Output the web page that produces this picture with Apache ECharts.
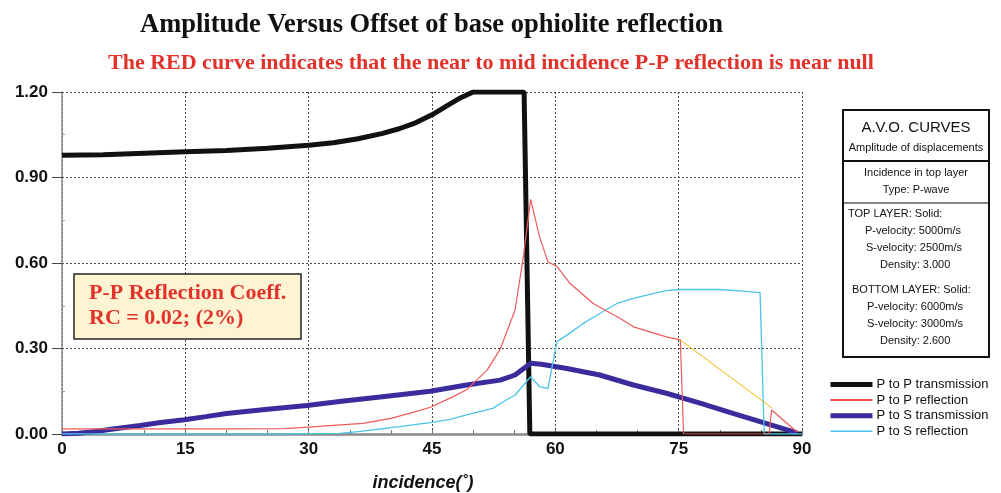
<!DOCTYPE html>
<html>
<head>
<meta charset="utf-8">
<script src="https://cdn.jsdelivr.net/npm/echarts@6/dist/echarts.min.js"></script>
<style>
html,body{margin:0;padding:0;background:#fff;}
#chart{width:1001px;height:493px;}
</style>
</head>
<body>
<div id="chart"></div>
<script>
// ---- data (incidence angle in degrees, amplitude) ----
var xTicks = [0, 15, 30, 45, 60, 75, 90];
var yTicks = [0.00, 0.30, 0.60, 0.90, 1.20];
var seriesNames = ['P to P transmission', 'P to P reflection', 'P to S transmission', 'P to S reflection'];

var ppTransmission = [[0,0.978],[5,0.98],[10,0.985],[15,0.99],[20,0.995],[25,1.003],[30,1.013],[33,1.022],[36,1.036],[39,1.055],[41,1.071],[43,1.092],[45,1.12],[47,1.155],[48.5,1.18],[50,1.2],[56.2,1.2],[56.9,0],[90,0]];
var ppReflection = [[0,0.018],[10,0.018],[20,0.018],[27,0.019],[30,0.024],[33,0.03],[36.6,0.037],[40,0.055],[42.7,0.076],[44.8,0.094],[47.2,0.126],[49.2,0.155],[51.7,0.224],[53.3,0.298],[55.1,0.435],[56.1,0.62],[57.0,0.823],[58.1,0.69],[59.1,0.604],[60.2,0.588],[61.8,0.528],[64.6,0.458],[67.9,0.405],[69.5,0.376],[73.5,0.341],[75.2,0.33],[75.6,0],[86.0,0],[86.3,0.084],[89.4,0.007]];
var psTransmission = [[0,0],[2,0.003],[3.8,0.008],[6,0.017],[9.5,0.03],[12,0.04],[14.9,0.05],[17.5,0.061],[20,0.072],[25,0.087],[29.8,0.1],[34,0.115],[38.7,0.13],[41.1,0.138],[44.8,0.15],[49.2,0.172],[53.3,0.189],[55.1,0.207],[57.0,0.248],[58.3,0.245],[61.4,0.23],[65.4,0.207],[69.5,0.172],[73.5,0.143],[77.6,0.108],[81.6,0.072],[85.6,0.037],[89.4,0.004]];
var psReflection = [[0,0],[27,0],[33.8,0.002],[36,0.008],[40,0.022],[41.1,0.026],[44.8,0.04],[47.2,0.051],[49.2,0.067],[52.4,0.09],[53.3,0.107],[55.1,0.137],[57.0,0.201],[58.1,0.166],[59.1,0.16],[60.2,0.324],[61.4,0.347],[63.4,0.388],[65.4,0.423],[67.5,0.458],[69.5,0.476],[71.5,0.49],[73.5,0.503],[75,0.507],[77.6,0.507],[80,0.507],[82.4,0.502],[84.9,0.496],[85.4,0],[90,0]];
var ppConnector = [[75.2,0.33],[86.4,0.09]];

var infoLines = [
  'A.V.O. CURVES', 'Amplitude of displacements', 'Incidence in top layer', 'Type: P-wave',
  'TOP LAYER: Solid:', 'P-velocity: 5000m/s', 'S-velocity: 2500m/s', 'Density: 3.000',
  'BOTTOM LAYER: Solid:', 'P-velocity: 6000m/s', 'S-velocity: 3000m/s', 'Density: 2.600'
];

var chart = echarts.init(document.getElementById('chart'));
var sans = 'Liberation Sans, Arial, Helvetica, sans-serif';
var serif = 'Liberation Serif, Times New Roman, serif';
var red = '#e2322a';

function infoText(str, x, y, size, align) {
  return {type:'text', x:x, y:y, z:100, style:{text:str, fill:'#111', font: size + 'px ' + sans, textAlign: align, textVerticalAlign:'middle'}};
}
var hiddenSymbol = {opacity:0, color:'rgba(0,0,0,0)', borderWidth:0};

var option = {
  animation: false,
  backgroundColor: '#fff',
  title: [
    {text:'Amplitude Versus Offset of base ophiolite reflection', left:140, top:12, padding:0,
     textStyle:{fontFamily:serif, fontWeight:'bold', fontSize:26.5, color:'#111'}},
    {text:'The RED curve indicates that the near to mid incidence P-P reflection is near null', left:108, top:52, padding:0,
     textStyle:{fontFamily:serif, fontWeight:'bold', fontSize:22, color:red}}
  ],
  grid: {left:62, right:199, top:92, bottom:59, containLabel:false, outerBoundsMode:'none'},
  legend: {
    orient:'vertical', left:828, top:378, padding:0, itemWidth:42, itemHeight:14, itemGap:2.6,
    textStyle:{fontFamily:sans, fontSize:13, color:'#111', padding:[0,0,0,-1]},
    data: [
      {name:seriesNames[0], itemStyle:hiddenSymbol, lineStyle:{width:5, color:'#111'}},
      {name:seriesNames[1], itemStyle:hiddenSymbol, lineStyle:{width:1.5, color:'#e81818'}},
      {name:seriesNames[2], itemStyle:hiddenSymbol, lineStyle:{width:5, color:'#3a2c9c'}},
      {name:seriesNames[3], itemStyle:hiddenSymbol, lineStyle:{width:1.5, color:'#48c0ec'}}
    ]
  },
  xAxis: {
    type:'value', min:0, max:90, interval:15,
    name:'incidence(˚)', nameLocation:'middle', nameGap:40,
    nameTextStyle:{fontFamily:sans, fontWeight:'bold', fontStyle:'italic', fontSize:18, color:'#111', padding:[0,18,0,0]},
    axisLine:{show:true, lineStyle:{color:'#8a8a8a', width:2.5}},
    axisTick:{show:true, inside:true, length:4, lineStyle:{color:'#777'}},
    minorTick:{show:true, splitNumber:3, length:4, lineStyle:{color:'#777'}},
    axisLabel:{fontFamily:sans, fontWeight:'bold', fontSize:17, color:'#111', margin:7,
      formatter:function(v){ return xTicks.indexOf(v) >= 0 ? String(v) : ''; }},
    splitLine:{show:true, lineStyle:{color:'#444', type:[2,2], width:1}}
  },
  yAxis: [{
    type:'value', min:0, max:1.2, interval:0.3,
    axisLine:{show:true, lineStyle:{color:'#8a8a8a', width:1.5}},
    axisTick:{show:true, length:10, lineStyle:{color:'#444'}},
    axisLabel:{fontFamily:sans, fontWeight:'bold', fontSize:17, color:'#111', margin:14,
      formatter:function(v){ return v.toFixed(2); }},
    splitLine:{show:true, lineStyle:{color:'#444', type:[2,2], width:1}}
  },{
    type:'value', min:0, max:1.2, interval:0.3, position:'left',
    axisLine:{show:false}, axisLabel:{show:false}, splitLine:{show:false},
    axisTick:{show:false, inside:true},
    minorTick:{show:true, splitNumber:2, length:3, lineStyle:{color:'#999'}}
  }],
  series: [
    {name:seriesNames[0], type:'line', data:ppTransmission, symbol:'none', z:3,
     lineStyle:{color:'#111', width:5}, itemStyle:{color:'#111'}},
    {name:seriesNames[2], type:'line', data:psTransmission, symbol:'none', z:4,
     lineStyle:{color:'#3a2c9c', width:5}, itemStyle:{color:'#3a2c9c'}},
    {name:seriesNames[3], type:'line', data:psReflection, symbol:'none', z:5,
     lineStyle:{color:'#4cc4ea', width:1.3}, itemStyle:{color:'#4cc4ea'}},
    {name:seriesNames[1], type:'line', data:ppReflection, symbol:'none', z:6,
     lineStyle:{color:'#f05a5a', width:1.2}, itemStyle:{color:'#f05a5a'}},
    {name:'connector', type:'line', data:ppConnector, symbol:'none', z:6,
     lineStyle:{color:'#f5b400', width:1}, itemStyle:{color:'#f5b400'}}
  ],
  graphic: [
    {type:'rect', z:50, shape:{x:74, y:274, width:227, height:65},
     style:{fill:'#fcf4d2', stroke:'#222', lineWidth:1.5}},
    {type:'text', z:51, x:89, y:293, style:{text:'P-P Reflection Coeff.', fill:red,
      font:'bold 22px ' + serif, textAlign:'left', textVerticalAlign:'middle'}},
    {type:'text', z:51, x:89, y:318, style:{text:'RC = 0.02; (2%)', fill:red,
      font:'bold 22px ' + serif, textAlign:'left', textVerticalAlign:'middle'}},
    {type:'rect', z:99, shape:{x:843, y:110, width:146, height:247},
     style:{fill:'#fff', stroke:'#111', lineWidth:2}},
    {type:'line', z:100, shape:{x1:843, y1:161, x2:989, y2:161}, style:{stroke:'#111', lineWidth:2}},
    {type:'line', z:100, shape:{x1:843, y1:203, x2:989, y2:203}, style:{stroke:'#111', lineWidth:1}},
    infoText(infoLines[0], 916, 128, 15, 'center'),
    infoText(infoLines[1], 916, 148, 11, 'center'),
    infoText(infoLines[2], 916, 173, 11, 'center'),
    infoText(infoLines[3], 916, 190, 11, 'center'),
    infoText(infoLines[4], 848, 214, 11, 'left'),
    infoText(infoLines[5], 865, 231, 11, 'left'),
    infoText(infoLines[6], 866, 248, 11, 'left'),
    infoText(infoLines[7], 880, 265, 11, 'left'),
    infoText(infoLines[8], 852, 290, 11, 'left'),
    infoText(infoLines[9], 867, 307, 11, 'left'),
    infoText(infoLines[10], 867, 324, 11, 'left'),
    infoText(infoLines[11], 880, 341, 11, 'left')
  ]
};
chart.setOption(option);
</script>
</body>
</html>
